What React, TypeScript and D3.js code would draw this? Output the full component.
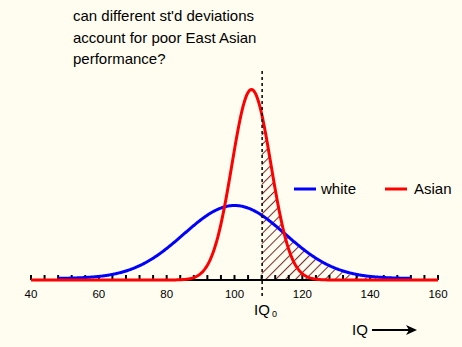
import React from "react";
import * as d3 from "d3";

const W = 462;
const H = 347;

// IQ distributions: group name, mean, standard deviation, IQ range drawn
const groups = ["white", "Asian"];
const means = [100, 105];
const sds = [15, 5.75];
const ranges: [number, number][] = [
  [48, 152],
  [40, 160],
];
const colors = ["#0000ff", "#ff0000"];

// threshold IQ marked by the dashed line
const iqThreshold = 108;

// axis
const axisDomain: [number, number] = [40, 160];
const tickLabels = [40, 60, 80, 100, 120, 140, 160];
const minorStep = 4;

const titleLines = [
  "can different st'd deviations",
  "account for poor East Asian",
  "performance?",
];

const FONT = "'Liberation Sans', Arial, sans-serif";

function pdf(x: number, m: number, s: number) {
  return Math.exp(-0.5 * ((x - m) / s) ** 2) / (s * Math.sqrt(2 * Math.PI));
}

export default function App() {
  const x = d3.scaleLinear().domain(axisDomain).range([31, 438]);
  const y = d3.scaleLinear().domain([0, 0.07]).range([280, 280 - 0.07 * 2745]);

  const curves = groups.map((g, i) => {
    const pts: [number, number][] = d3
      .range(ranges[i][0], ranges[i][1] + 0.001, 0.25)
      .map((v) => [v, pdf(v, means[i], sds[i])]);
    return pts;
  });

  const line = d3
    .line<[number, number]>()
    .x((d) => x(d[0]))
    .y((d) => y(d[1]));

  // shaded tail: area above the threshold under the higher of the two curves
  const tailEnd = ranges[0][1];
  const tailPts: [number, number][] = d3
    .range(iqThreshold, tailEnd + 0.001, 0.25)
    .map((v) => [
      v,
      Math.max(...groups.map((_, i) => pdf(v, means[i], sds[i]))),
    ]);
  const area = d3
    .area<[number, number]>()
    .x((d) => x(d[0]))
    .y0(y(0))
    .y1((d) => y(d[1]));

  const ticks = d3.range(axisDomain[0], axisDomain[1] + 0.001, minorStep);

  return (
    <div style={{ position: "fixed", left: 0, top: 0 }}>
      <svg width={W} height={H} style={{ display: "block" }}>
        <defs>
          <pattern
            id="hatch"
            width={7}
            height={7}
            patternUnits="userSpaceOnUse"
            patternTransform="rotate(45)"
          >
            <line x1={0.5} y1={0} x2={0.5} y2={7} stroke="#7a2e2e" strokeWidth={1.1} />
          </pattern>
        </defs>
        <rect width={W} height={H} fill="#fffdf0" />

        {/* title */}
        <text x={73} y={21} fontFamily={FONT} fontSize={15} fill="#000">
          {titleLines.map((t, i) => (
            <tspan key={i} x={73} y={21 + i * 21.5}>
              {t}
            </tspan>
          ))}
        </text>

        {/* hatched tail */}
        <path d={area(tailPts) || ""} fill="url(#hatch)" />

        {/* axis */}
        <line x1={x(axisDomain[0])} x2={x(axisDomain[1])} y1={280} y2={280} stroke="#000" strokeWidth={2} />
        {ticks.map((t) => (
          <line key={t} x1={x(t)} x2={x(t)} y1={275} y2={280} stroke="#000" strokeWidth={2} />
        ))}
        {tickLabels.map((t) => (
          <text
            key={t}
            x={x(t)}
            y={298}
            textAnchor="middle"
            fontFamily={FONT}
            fontSize={11.5}
            fill="#000"
          >
            {t}
          </text>
        ))}

        {/* curves */}
        {curves.map((c, i) => (
          <path
            key={groups[i]}
            d={line(c) || ""}
            fill="none"
            stroke={colors[i]}
            strokeWidth={3}
            transform={i === 0 ? "translate(0,-1.5)" : undefined}
          />
        ))}

        {/* threshold */}
        <line
          x1={x(iqThreshold) + 0.5}
          x2={x(iqThreshold) + 0.5}
          y1={71}
          y2={298}
          stroke="#000"
          strokeWidth={1.5}
          strokeDasharray="3,3"
        />
        <text x={254} y={315} fontFamily={FONT} fontSize={15} fill="#000">
          IQ
        </text>
        <text x={272} y={317} fontFamily={FONT} fontSize={9} fill="#000">
          0
        </text>

        {/* legend */}
        {groups.map((g, i) => (
          <g key={g} transform={`translate(${294 + i * 91},189)`}>
            <line x1={0} x2={22} y1={0} y2={0} stroke={colors[i]} strokeWidth={3} />
            <text x={27 + (i === 1 ? 2 : 0)} y={5} fontFamily={FONT} fontSize={15} fill="#000">
              {g}
            </text>
          </g>
        ))}

        {/* axis title */}
        <text x={352} y={335} fontFamily={FONT} fontSize={15} fill="#000">
          IQ
        </text>
        <line x1={372} x2={410} y1={330} y2={330} stroke="#000" strokeWidth={2} />
        <path d="M406,325 L417,330 L406,335 L409,330 Z" fill="#000" />
      </svg>
    </div>
  );
}
